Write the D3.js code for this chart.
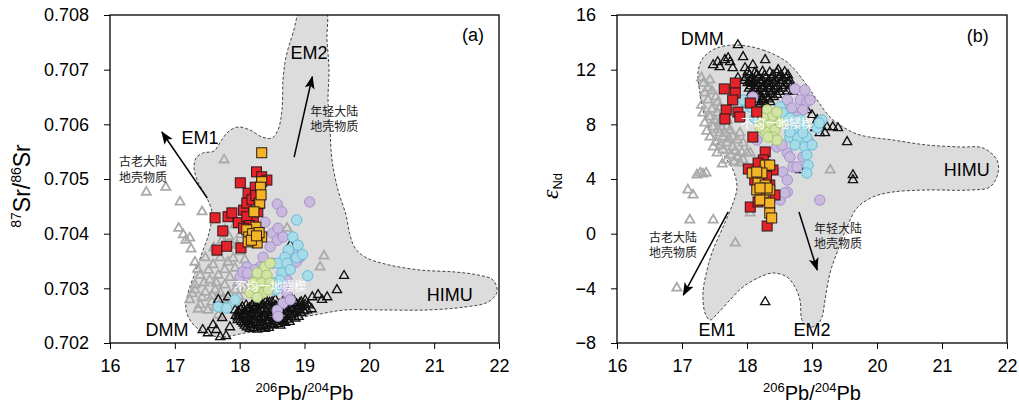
<!DOCTYPE html>
<html>
<head>
<meta charset="utf-8">
<script src="https://cdn.jsdelivr.net/npm/d3@7"></script>
<style>
body { margin: 0; background: #fff; }
text { font-family: "Liberation Sans", Arial, sans-serif; }
.cn { font-family: "Noto Sans CJK SC", sans-serif; }
</style>
</head>
<body>
<script>
// tick values
var xTicks = [16, 17, 18, 19, 20, 21, 22];
var srTicks = [0.702, 0.703, 0.704, 0.705, 0.706, 0.707, 0.708];
var ndTicks = [-8, -4, 0, 4, 8, 12, 16];

// ---- panel (a): 206Pb/204Pb vs 87Sr/86Sr ----
var fieldA = [[18.962,0.708128],[18.823,0.707671],[18.715,0.707232],[18.669,0.706811],[18.653,0.706262],
  [18.591,0.705896],[18.499,0.705750],[18.345,0.705768],[18.160,0.705896],[17.974,0.705951],[17.820,0.705860],
  [17.712,0.705695],[17.604,0.705512],[17.435,0.705476],[17.327,0.705384],[17.296,0.705201],[17.357,0.704945],
  [17.496,0.704652],[17.573,0.704378],[17.527,0.704012],[17.419,0.703646],[17.311,0.703280],[17.203,0.702915],
  [17.172,0.702604],[17.265,0.702366],[17.435,0.702201],[17.697,0.702110],[18.082,0.702183],[18.545,0.702274],
  [18.931,0.702457],[19.239,0.702530],[19.625,0.702604],[20.211,0.702604],[20.890,0.702604],[21.476,0.702659],
  [21.831,0.702750],[21.969,0.702933],[21.908,0.703152],[21.676,0.703244],[21.322,0.703299],[20.782,0.703335],
  [20.242,0.703445],[19.933,0.703573],[19.779,0.703738],[19.702,0.703976],[19.640,0.704341],[19.517,0.704799],
  [19.424,0.705347],[19.394,0.705896],[19.363,0.706445],[19.378,0.706994],[19.347,0.707543],[19.316,0.708128]];

var grayTriA = [[16.56,0.70476],[16.86,0.70485],[17.08,0.70458],[17.42,0.70440],[17.76,0.70535],[17.06,0.70410],
  [17.13,0.70398],[17.23,0.70392],[17.25,0.70372],[17.17,0.70388],[18.73,0.70410],[19.30,0.70359],[19.24,0.70339],
  [17.31,0.70348],[17.47,0.70356],[17.59,0.70343],[17.70,0.70356],[17.82,0.70348],[17.39,0.70324],[17.54,0.70315],
  [17.67,0.70324],[17.77,0.70334],[17.93,0.70337],[17.31,0.70297],[17.47,0.70293],[17.62,0.70297],[17.77,0.70306],
  [17.93,0.70297],[17.23,0.70279],[17.39,0.70270],[17.57,0.70275],[17.73,0.70279],[17.85,0.70288],[17.97,0.70310],
  [18.08,0.70297],[17.31,0.70306],[17.51,0.70260],[17.67,0.70251],[18.01,0.70367],[17.88,0.70379],[18.08,0.70352],
  [17.60,0.70374],[17.73,0.70388],[18.01,0.70398],[17.93,0.70416],[17.77,0.70407],
  [17.35,0.70335],[17.52,0.70333],[17.64,0.70310],[17.85,0.70320],[17.42,0.70283],[17.58,0.70286],[17.70,0.70292],
  [17.27,0.70290],[17.45,0.70310],[17.36,0.70262],[17.62,0.70265],[17.80,0.70270],[17.90,0.70355],[17.66,0.70365],
  [17.83,0.70395],[17.96,0.70380],[18.05,0.70320],[17.99,0.70285]];

var blackTriA = [[17.67,0.70279],[17.82,0.70284],[18.78,0.70379],[19.61,0.70323],[19.50,0.70297],[19.35,0.70284],
  [19.21,0.70288],[19.12,0.70284],[19.27,0.70279],[18.93,0.70273],[17.43,0.70224],[17.59,0.70233],[17.70,0.70211],
  [17.79,0.70213],[17.85,0.70229],[17.97,0.70242],[17.51,0.70218],[17.64,0.70224],[17.93,0.70260],[17.73,0.70246],
  [18.36,0.70281],[18.55,0.70279],[18.79,0.70282],[19.01,0.70278],
  [18.21,0.70273],[18.31,0.70271],[18.46,0.70274],[18.62,0.70270],[18.73,0.70273],[18.88,0.70271],[19.06,0.70269],
  [18.04,0.70266],[18.15,0.70264],[18.26,0.70267],[18.38,0.70263],[18.51,0.70266],[18.60,0.70262],[18.71,0.70265],
  [18.83,0.70263],[18.96,0.70266],[19.11,0.70262],
  [17.98,0.70258],[18.08,0.70257],[18.19,0.70259],[18.29,0.70256],[18.41,0.70258],[18.52,0.70255],[18.64,0.70259],
  [18.76,0.70257],[18.86,0.70256],[18.99,0.70258],
  [17.94,0.70250],[18.05,0.70251],[18.13,0.70249],[18.23,0.70252],[18.34,0.70248],[18.45,0.70251],[18.56,0.70249],
  [18.67,0.70250],[18.79,0.70252],[18.91,0.70248],
  [18.01,0.70243],[18.11,0.70244],[18.21,0.70242],[18.31,0.70245],[18.42,0.70241],[18.53,0.70244],[18.63,0.70242],
  [18.73,0.70243],[18.86,0.70245],
  [18.06,0.70236],[18.16,0.70235],[18.26,0.70237],[18.36,0.70234],[18.48,0.70236],[18.59,0.70235],[18.70,0.70237],
  [18.11,0.70229],[18.22,0.70228],[18.33,0.70230],[18.45,0.70228],
  [18.27,0.70276],[18.41,0.70277],[18.50,0.70275],[18.67,0.70276],[18.84,0.70277],[18.95,0.70275],
  [18.10,0.70269],[18.20,0.70268],[18.35,0.70270],[18.43,0.70269],[18.56,0.70268],[18.66,0.70270],[18.78,0.70269],
  [18.92,0.70268],[19.01,0.70270],
  [18.02,0.70261],[18.12,0.70262],[18.22,0.70261],[18.33,0.70260],[18.46,0.70262],[18.56,0.70261],[18.68,0.70260],
  [18.80,0.70262],[18.90,0.70261],[19.04,0.70260],
  [17.99,0.70254],[18.10,0.70253],[18.17,0.70255],[18.27,0.70254],[18.38,0.70253],[18.49,0.70255],[18.60,0.70254],
  [18.71,0.70253],[18.83,0.70254],[18.95,0.70255],
  [17.97,0.70247],[18.07,0.70246],[18.16,0.70247],[18.26,0.70248],[18.37,0.70246],[18.48,0.70247],[18.59,0.70246],
  [18.69,0.70247],[18.80,0.70248],
  [18.03,0.70239],[18.13,0.70240],[18.24,0.70239],[18.33,0.70238],[18.44,0.70240],[18.55,0.70239],[18.66,0.70240],
  [18.77,0.70239],
  [18.08,0.70232],[18.18,0.70233],[18.29,0.70232],[18.40,0.70231],[18.52,0.70233],[18.63,0.70232],
  [18.16,0.70226],[18.27,0.70225],[18.39,0.70226]];

var purpleA = [[18.58,0.70454],[18.65,0.70440],[19.08,0.70458],[18.39,0.70421],[18.51,0.70401],[18.58,0.70388],
  [18.67,0.70394],[18.59,0.70410],[18.47,0.70376],[18.36,0.70357],[18.50,0.70346],[18.31,0.70339],[18.11,0.70339],
  [18.01,0.70321],[18.13,0.70321],[18.24,0.70334],[18.82,0.70365],[18.93,0.70357],[18.87,0.70348],[18.67,0.70302],
  [18.73,0.70292],[18.67,0.70273],[18.58,0.70260],[18.78,0.70279],[18.59,0.70249],[18.73,0.70315],[18.42,0.70297],
  [18.05,0.70330],[18.12,0.70328]];

var cyanA = [[18.88,0.70425],[18.82,0.70394],[18.90,0.70379],[18.75,0.70370],[18.70,0.70357],[18.59,0.70346],
  [18.73,0.70346],[18.88,0.70356],[19.05,0.70323],[18.65,0.70328],[18.62,0.70315],[18.51,0.70310],[17.67,0.70266],
  [17.80,0.70264],[17.93,0.70279],[18.97,0.70362],[18.78,0.70334],[18.55,0.70297]];

var greenA = [[18.39,0.70339],[18.27,0.70328],[18.42,0.70324],[18.21,0.70310],[18.34,0.70310],[18.47,0.70310],
  [18.16,0.70292],[18.36,0.70292],[18.27,0.70284],[18.44,0.70297],[18.47,0.70346],[18.24,0.70301]];

var redA = [[17.62,0.70429],[17.82,0.70431],[17.88,0.70438],[17.74,0.70405],[17.65,0.70370],[17.80,0.70377],
  [18.02,0.70374],[17.98,0.70420],[18.01,0.70493],[18.13,0.70474],[18.06,0.70443],[18.11,0.70456],[18.26,0.70513],
  [18.34,0.70504],[18.42,0.70498],[18.24,0.70485],[18.19,0.70462],[18.21,0.70425],[18.11,0.70431],[18.15,0.70415],
  [18.28,0.70440],[18.06,0.70410],[18.25,0.70470],[18.30,0.70455]];

var yellowA = [[18.34,0.70548],[18.34,0.70495],[18.32,0.70485],[18.31,0.70456],[18.22,0.70440],[18.25,0.70412],
  [18.11,0.70407],[18.14,0.70394],[18.20,0.70400],[18.34,0.70394],[18.27,0.70383],[18.13,0.70385],[18.30,0.70402],
  [18.18,0.70388],[18.26,0.70396],[18.33,0.70471]];

var labelsA = [["EM1",17.39,0.70575],["EM2",19.07,0.70730],["DMM",16.88,0.70224],["HIMU",21.24,0.70288],["(a)",21.60,0.70763]];
var cnLabelsA = [["古老大陆",16.51,0.70534],["地壳物质",16.51,0.70505],["年轻大陆",19.46,0.70626],["地壳物质",19.46,0.70597]];
var wedgeA = ["不均一地幔楔",18.47,0.70306];
var arrowsA = [[[17.50,0.70465],[16.80,0.70586]],[[18.84,0.70540],[19.12,0.70687]]];

// ---- panel (b): 206Pb/204Pb vs eNd ----
var fieldB = [[17.846,13.805],[18.246,13.439],[18.615,12.561],[18.862,11.244],[19.077,9.781],[19.277,8.537],
  [19.477,7.805],[19.738,7.220],[20.246,6.854],[20.769,6.488],[21.277,6.342],[21.631,6.268],[21.846,5.390],
  [21.862,4.439],[21.738,3.415],[21.431,3.195],[20.769,3.195],[20.246,3.049],[19.938,2.683],[19.692,1.878],
  [19.538,0.488],[19.400,-1.195],[19.277,-2.878],[19.200,-4.853],[19.154,-6.097],[19.077,-6.683],[18.938,-6.829],
  [18.846,-6.317],[18.815,-4.853],[18.738,-3.902],[18.615,-3.171],[18.400,-2.878],[18.200,-3.171],[17.938,-3.902],
  [17.738,-4.853],[17.554,-5.805],[17.431,-6.317],[17.354,-5.805],[17.323,-4.341],[17.385,-2.658],[17.477,-1.195],
  [17.631,0.488],[17.785,2.244],[17.846,3.415],[17.785,4.659],[17.662,5.610],[17.538,6.634],[17.431,7.585],
  [17.323,9.049],[17.277,10.293],[17.246,11.756],[17.323,12.854],[17.538,13.585]];

var grayTriB = [[17.09,3.20],[17.17,2.83],[17.12,1.00],[17.48,1.00],[17.82,-0.68],[16.92,-3.98],[17.23,4.29],
  [17.28,4.44],[17.32,4.37],[17.37,4.44],[19.28,4.66],[18.05,1.51],
  [17.43,11.24],[17.35,10.29],[17.40,10.66],[17.32,8.83],[17.43,8.54],[17.54,8.83],[17.58,9.27],[17.35,8.10],
  [17.48,7.80],[17.58,8.10],[17.69,7.80],[17.58,7.37],[17.74,7.59],[17.63,7.07],[17.78,7.07],[17.69,6.63],
  [17.85,6.85],[17.89,7.37],[17.63,6.12],[17.78,6.34],[17.94,6.63],[17.85,5.61],[18.00,5.90],[17.69,5.39],
  [17.89,5.17],[17.54,5.90],[17.43,7.07],[17.40,9.78],[17.52,10.00],[17.63,8.54],[17.48,6.34],[17.94,5.39],[18.05,5.90],
  [17.30,9.40],[17.46,9.10],[17.50,8.30],[17.38,7.50],[17.55,7.60],[17.66,7.35],[17.52,6.70],[17.72,6.95],
  [17.60,6.45],[17.82,6.05],[17.75,5.75],[17.92,5.95],[17.62,5.10],[17.80,5.25],[17.66,8.95],[17.70,8.30],
  [17.46,10.45],[17.33,11.00],[17.30,11.40],[17.55,9.60]];

var blackTriB = [[17.86,13.80],[17.48,12.34],[17.58,12.20],[17.66,12.71],[17.74,12.56],[17.78,12.12],[17.94,12.93],
  [17.97,12.12],[18.09,12.34],[18.28,12.71],[18.15,11.61],[18.05,11.10],[18.48,11.98],[18.55,11.39],[17.86,11.39],
  [17.55,12.56],[17.71,12.85],[19.54,6.71],[19.63,4.29],[19.63,3.93],[18.28,-5.00],[18.82,4.66],[18.92,9.05],
  [19.08,8.32],[19.23,7.80],[19.32,7.80],[19.20,7.37],[19.05,7.73],[19.00,8.68],[19.40,7.73],[19.12,7.37],
  [18.01,11.82],[18.12,11.78],[18.24,11.85],[18.35,11.80],[18.46,11.76],[18.58,11.83],
  [17.98,11.42],[18.08,11.38],[18.18,11.44],[18.29,11.40],[18.38,11.36],[18.49,11.43],[18.60,11.39],
  [18.01,11.02],[18.10,10.98],[18.21,11.04],[18.31,10.97],[18.41,11.03],[18.52,10.99],[18.63,11.01],
  [18.03,10.62],[18.13,10.58],[18.23,10.64],[18.33,10.60],[18.43,10.57],[18.55,10.63],
  [18.06,10.22],[18.16,10.18],[18.26,10.24],[18.36,10.20],[18.46,10.16],
  [18.13,9.82],[18.23,9.78],[18.33,9.84],[18.21,9.52],[18.29,9.48],[18.68,10.80],[18.70,10.40],
  [18.04,11.60],[18.15,11.62],[18.27,11.58],[18.40,11.61],[18.52,11.59],[18.63,11.60],
  [17.96,11.20],[18.05,11.22],[18.14,11.19],[18.24,11.21],[18.34,11.18],[18.44,11.22],[18.55,11.20],[18.66,11.19],
  [18.06,10.80],[18.16,10.82],[18.26,10.79],[18.36,10.81],[18.47,10.78],[18.58,10.82],
  [18.08,10.40],[18.18,10.42],[18.28,10.39],[18.39,10.41],[18.50,10.38],[18.62,10.42],
  [18.10,10.00],[18.20,10.02],[18.30,9.99],[18.41,10.01],
  [18.17,9.65],[18.26,9.67],[18.36,9.64]];

var purpleB = [[18.74,10.59],[18.82,9.78],[18.62,9.78],[18.92,9.63],[18.69,9.20],[18.86,9.05],[18.09,10.00],
  [18.15,6.85],[18.46,6.34],[18.62,5.90],[18.71,4.88],[18.55,4.51],[18.62,3.93],[18.62,3.05],[18.51,2.46],
  [19.12,2.46],[18.86,5.61],[18.97,6.63],[18.77,8.54],[18.54,6.49],[18.66,5.61],[18.77,4.88],[18.58,2.98],
  [18.97,9.78],[18.89,10.51]];

var cyanB = [[17.97,9.63],[18.05,9.27],[18.20,8.83],[18.12,8.46],[17.94,9.78],[18.51,9.27],[18.55,8.83],
  [18.66,8.46],[18.82,8.32],[18.86,7.80],[18.71,7.59],[18.66,7.07],[18.78,7.00],[18.92,7.07],[18.74,6.49],
  [18.89,6.34],[19.00,6.49],[18.92,5.76],[18.94,5.02],[18.92,4.44],[19.15,8.32],[19.08,7.73],[19.11,8.10],
  [18.66,7.44],[18.86,7.37]];

var greenB = [[18.31,9.05],[18.38,8.54],[18.46,8.90],[18.25,8.46],[18.35,7.95],[18.43,7.59],[18.51,8.10],
  [18.28,7.44],[18.40,7.07],[18.46,6.85],[18.20,7.80],[18.32,7.07]];

var redB = [[17.65,10.59],[17.82,11.02],[17.82,10.29],[17.78,9.78],[17.68,9.05],[17.86,8.90],[17.66,8.39],
  [18.05,9.56],[18.15,8.90],[17.89,8.54],[18.09,7.07],[18.28,5.98],[18.25,5.39],[18.17,5.17],[18.02,4.73],
  [18.40,4.66],[18.12,3.93],[18.05,1.95],[18.17,2.32],[18.43,2.83],[18.31,0.56],[18.35,3.56],[18.30,4.20],[18.20,4.45]];

var yellowB = [[18.08,4.44],[18.28,5.02],[18.35,5.02],[18.17,3.71],[18.28,3.56],[18.25,2.98],[18.15,3.20],
  [18.35,3.20],[18.20,2.46],[18.35,2.24],[18.35,1.51],[18.38,1.15],[18.23,4.44],[18.15,4.51],[18.31,3.34],[18.20,3.34]];

var labelsB = [["DMM",17.31,14.24],["HIMU",21.38,4.66],["EM1",17.54,-7.05],["EM2",19.00,-7.05],["(b)",21.55,14.46]];
var cnLabelsB = [["古老大陆",16.86,-0.18],["地壳物质",16.86,-1.34],["年轻大陆",19.40,0.48],["地壳物质",19.40,-0.68]];
var wedgeB = ["不均一地幔楔",18.46,8.17];
var arrowsB = [[[17.71,1.59],[17.02,-4.49]],[[18.80,1.59],[19.08,-2.66]]];

var width = 1019,
    height = 405;

var svg = d3.select("body")
            .append("svg")
            .attr("width", width)
            .attr("height", height);

// arrow head
svg.append("defs").append("marker")
    .attr("id", "head")
    .attr("markerUnits", "userSpaceOnUse")
    .attr("markerWidth", 14).attr("markerHeight", 12)
    .attr("refX", 12).attr("refY", 5)
    .attr("orient", "auto")
  .append("path")
    .attr("d", "M0,0 L13,5 L0,10 L3,5 Z")
    .attr("fill", "#000");

function drawPanel(p) {
    var x = d3.scaleLinear().domain([16, 22]).range([p.left, p.right]);
    var y = d3.scaleLinear().domain(p.yDomain).range([p.bottom, p.top]);

    var g = svg.append("g");

    g.append("clipPath").attr("id", "clip-" + p.id)
      .append("rect")
        .attr("x", p.left).attr("y", p.top)
        .attr("width", p.right - p.left).attr("height", p.bottom - p.top);

    var plot = g.append("g").attr("clip-path", "url(#clip-" + p.id + ")");

    // mantle end-member field
    var line = d3.line()
        .x(function(d) { return x(d[0]); })
        .y(function(d) { return y(d[1]); })
        .curve(d3.curveCatmullRomClosed.alpha(0.5));

    plot.append("path")
        .datum(p.field)
        .attr("d", line)
        .attr("fill", "#dcdcdc")
        .attr("stroke", "#333")
        .attr("stroke-width", 0.9)
        .attr("stroke-dasharray", "3,2");

    var tri = d3.symbol().type(d3.symbolTriangle).size(36)();

    plot.append("g").selectAll("path")
        .data(p.gray).enter().append("path")
        .attr("d", tri)
        .attr("transform", function(d) { return "translate(" + x(d[0]) + "," + y(d[1]) + ")"; })
        .attr("fill", "none")
        .attr("stroke", "#aaa")
        .attr("stroke-width", 1.8);

    plot.append("g").selectAll("path")
        .data(p.black).enter().append("path")
        .attr("d", tri)
        .attr("transform", function(d) { return "translate(" + x(d[0]) + "," + y(d[1]) + ")"; })
        .attr("fill", "none")
        .attr("stroke", "#111")
        .attr("stroke-width", 1.35);

    function circles(data, fill, stroke) {
        plot.append("g").selectAll("circle")
            .data(data).enter().append("circle")
            .attr("cx", function(d) { return x(d[0]); })
            .attr("cy", function(d) { return y(d[1]); })
            .attr("r", 5.2)
            .attr("fill", fill)
            .attr("stroke", stroke)
            .attr("stroke-width", 1);
    }
    circles(p.purple, "#c9b9df", "#a58fcb");
    circles(p.cyan, "#a8dbe8", "#64bcd6");
    circles(p.green, "#d3e4a5", "#a7c56c");

    function squares(data, fill) {
        plot.append("g").selectAll("rect")
            .data(data).enter().append("rect")
            .attr("x", function(d) { return x(d[0]) - 5; })
            .attr("y", function(d) { return y(d[1]) - 5; })
            .attr("width", 10).attr("height", 10)
            .attr("fill", fill)
            .attr("stroke", "#2a1a1a")
            .attr("stroke-width", 1);
    }
    squares(p.red, "#e4222a");
    squares(p.yellow, "#f3b526");

    // wedge label
    plot.append("text")
        .attr("class", "cn")
        .attr("x", x(p.wedge[1])).attr("y", y(p.wedge[2]))
        .attr("text-anchor", "middle").attr("dominant-baseline", "central")
        .attr("font-size", 12).attr("fill", "#fff")
        .text(p.wedge[0]);

    // arrows
    g.selectAll(".arr")
        .data(p.arrows).enter().append("line")
        .attr("x1", function(d) { return x(d[0][0]); })
        .attr("y1", function(d) { return y(d[0][1]); })
        .attr("x2", function(d) { return x(d[1][0]); })
        .attr("y2", function(d) { return y(d[1][1]); })
        .attr("stroke", "#000")
        .attr("stroke-width", 1.5)
        .attr("marker-end", "url(#head)");

    g.selectAll(".lab")
        .data(p.labels).enter().append("text")
        .attr("x", function(d) { return x(d[1]); })
        .attr("y", function(d) { return y(d[2]); })
        .attr("text-anchor", "middle").attr("dominant-baseline", "central")
        .attr("font-size", 18)
        .text(function(d) { return d[0]; });

    g.selectAll(".cnlab")
        .data(p.cnLabels).enter().append("text")
        .attr("class", "cn")
        .attr("x", function(d) { return x(d[1]); })
        .attr("y", function(d) { return y(d[2]); })
        .attr("text-anchor", "middle").attr("dominant-baseline", "central")
        .attr("font-size", 12).attr("fill", "#222")
        .text(function(d) { return d[0]; });

    // axes
    var ax = g.append("g").attr("transform", "translate(0," + p.bottom + ")");
    ax.call(d3.axisBottom(x).tickValues(d3.range(16, 22.01, 0.2)).tickSize(4).tickSizeOuter(0).tickFormat(""));
    ax.call(d3.axisBottom(x).tickValues(xTicks).tickSize(6).tickSizeOuter(0).tickPadding(10).tickFormat(d3.format("d")));
    ax.selectAll(".domain").remove();
    ax.selectAll("text").attr("font-size", 18).attr("fill", "#000");

    var ay = g.append("g").attr("transform", "translate(" + p.left + ",0)");
    ay.call(d3.axisLeft(y).tickValues(p.yMinor).tickSize(4).tickSizeOuter(0).tickFormat(""));
    ay.call(d3.axisLeft(y).tickValues(p.yTicks).tickSize(6).tickSizeOuter(0).tickPadding(15).tickFormat(p.fmt));
    ay.selectAll(".domain").remove();
    ay.selectAll("text").attr("font-size", 18).attr("fill", "#000");
    g.selectAll(".tick line").attr("stroke", "#000").attr("stroke-width", 1);

    g.append("rect")
        .attr("x", p.left).attr("y", p.top)
        .attr("width", p.right - p.left).attr("height", p.bottom - p.top)
        .attr("fill", "none").attr("stroke", "#000").attr("stroke-width", 1.3);

    // x title
    var xt = g.append("text")
        .attr("x", (p.left + p.right) / 2).attr("y", 400)
        .attr("text-anchor", "middle").attr("font-size", 20);
    xt.append("tspan").attr("font-size", 13).attr("dy", -8).text("206");
    xt.append("tspan").attr("dy", 8).text("Pb/");
    xt.append("tspan").attr("font-size", 13).attr("dy", -8).text("204");
    xt.append("tspan").attr("dy", 8).text("Pb");

    p.yTitle(g, (p.top + p.bottom) / 2 + 7);
}

drawPanel({
    id: "a", left: 110, right: 499, top: 15, bottom: 343,
    yDomain: [0.702, 0.708], yTicks: srTicks, yMinor: d3.range(0.702, 0.70801, 0.0001),
    fmt: d3.format(".3f"),
    field: fieldA, gray: grayTriA, black: blackTriA, purple: purpleA, cyan: cyanA, green: greenA,
    red: redA, yellow: yellowA, labels: labelsA, cnLabels: cnLabelsA, wedge: wedgeA, arrows: arrowsA,
    yTitle: function(g, cy) {
        var t = g.append("text")
            .attr("transform", "translate(30," + cy + ") rotate(-90)")
            .attr("text-anchor", "middle").attr("font-size", 23);
        t.append("tspan").attr("font-size", 14).attr("dy", -9).text("87");
        t.append("tspan").attr("dy", 9).text("Sr/");
        t.append("tspan").attr("font-size", 14).attr("dy", -9).text("86");
        t.append("tspan").attr("dy", 9).text("Sr");
    }
});

drawPanel({
    id: "b", left: 617, right: 1007, top: 15, bottom: 343,
    yDomain: [-8, 16], yTicks: ndTicks, yMinor: d3.range(-8, 16.01, 0.5),
    fmt: d3.format("d"),
    field: fieldB, gray: grayTriB, black: blackTriB, purple: purpleB, cyan: cyanB, green: greenB,
    red: redB, yellow: yellowB, labels: labelsB, cnLabels: cnLabelsB, wedge: wedgeB, arrows: arrowsB,
    yTitle: function(g, cy) {
        var t = g.append("text")
            .attr("transform", "translate(558," + cy + ") rotate(-90)")
            .attr("text-anchor", "middle").attr("font-size", 24);
        t.append("tspan").attr("font-family", "Liberation Serif").attr("font-style", "italic").text("ε");
        t.append("tspan").attr("font-size", 13).attr("dy", 4).text("Nd");
    }
});
</script>
</body>
</html>
